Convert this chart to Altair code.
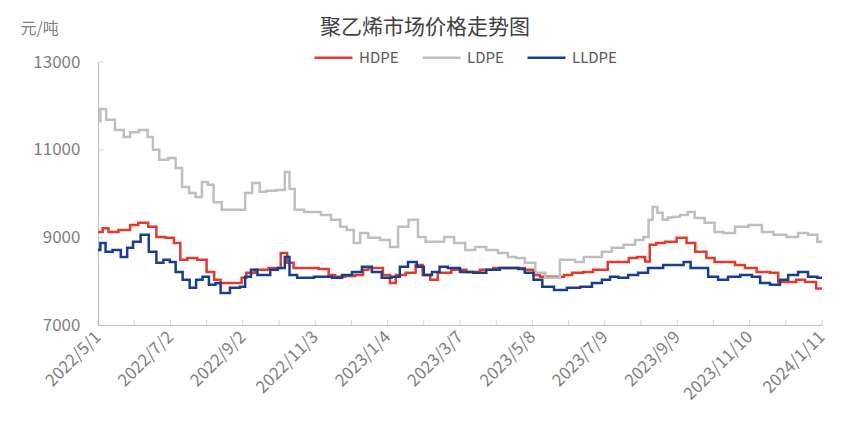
import altair as alt
import pandas as pd

# day offsets from 2022-05-01
ldpe_days = [0, 4, 10, 19, 25, 30, 40, 45, 49, 56, 64, 69, 75, 81, 86, 92, 96, 102, 110, 122, 124, 128, 136, 141, 147, 158, 162, 166, 171, 182, 188, 194, 205, 210, 216, 222, 227, 236, 247, 253, 261, 271, 277, 284, 293, 300, 310, 319, 327, 338, 347, 355, 361, 370, 379, 387, 393, 398, 404, 413, 419, 427, 436, 444, 456, 464, 470, 473, 477, 481, 486, 490, 496, 501, 509, 513, 526, 530, 541, 550, 564, 573, 584, 595, 604, 612, 620]
ldpe_vals = [11650, 11930, 11680, 11450, 11290, 11400, 11450, 11290, 11000, 10770, 10810, 10580, 10150, 10010, 9920, 10260, 10200, 9800, 9630, 9630, 9630, 10010, 10240, 10040, 10060, 10080, 10490, 10100, 9630, 9580, 9580, 9510, 9400, 9240, 9170, 8870, 9100, 8990, 8940, 8780, 9240, 9400, 9010, 8900, 8900, 9010, 8870, 8710, 8780, 8710, 8640, 8550, 8530, 8420, 8190, 8080, 8080, 8490, 8490, 8440, 8550, 8550, 8670, 8760, 8830, 8940, 9010, 9400, 9690, 9560, 9400, 9450, 9470, 9510, 9580, 9440, 9330, 9120, 9100, 9240, 9280, 9120, 9060, 9010, 9100, 9060, 8900]

hdpe_days = [0, 8, 10, 25, 30, 39, 47, 53, 62, 68, 73, 80, 90, 96, 103, 107, 122, 124, 130, 139, 153, 160, 164, 171, 182, 196, 199, 207, 216, 224, 230, 233, 241, 247, 253, 257, 270, 274, 282, 287, 295, 310, 321, 333, 344, 355, 361, 370, 376, 381, 396, 402, 410, 421, 427, 436, 437, 453, 456, 467, 470, 475, 481, 490, 501, 507, 516, 526, 530, 541, 550, 558, 570, 581, 584, 595, 601, 610, 620]
hdpe_vals = [9120, 9210, 9120, 9170, 9280, 9330, 9240, 9010, 8990, 8870, 8490, 8530, 8490, 8210, 8030, 7960, 7960, 8080, 8190, 8260, 8300, 8640, 8420, 8300, 8300, 8280, 8140, 8100, 8120, 8140, 8260, 8300, 8300, 8140, 7960, 8140, 8190, 8370, 8140, 8030, 8190, 8260, 8210, 8260, 8300, 8300, 8300, 8260, 8140, 8100, 8100, 8140, 8190, 8210, 8260, 8260, 8440, 8440, 8530, 8550, 8450, 8830, 8870, 8900, 8990, 8870, 8670, 8530, 8440, 8440, 8370, 8300, 8210, 8190, 7980, 7980, 8030, 7980, 7830]

lldpe_days = [0, 4, 9, 16, 23, 27, 33, 40, 47, 53, 59, 64, 69, 76, 81, 87, 92, 98, 103, 107, 119, 124, 128, 134, 139, 145, 150, 158, 162, 166, 175, 182, 188, 196, 205, 213, 222, 230, 239, 247, 256, 261, 270, 276, 282, 290, 295, 304, 316, 327, 338, 350, 359, 361, 370, 376, 385, 396, 407, 419, 427, 436, 441, 450, 458, 467, 475, 481, 487, 498, 505, 510, 518, 527, 535, 544, 556, 564, 570, 581, 587, 595, 604, 612, 620]
lldpe_vals = [8710, 8870, 8670, 8710, 8550, 8760, 8900, 9060, 8670, 8420, 8490, 8440, 8210, 8030, 7850, 8030, 8100, 7920, 7950, 7730, 7850, 7870, 8100, 8260, 8140, 8140, 8260, 8300, 8550, 8140, 8080, 8080, 8100, 8100, 8080, 8140, 8210, 8330, 8210, 8080, 8100, 8330, 8440, 8330, 8140, 8210, 8330, 8300, 8210, 8190, 8260, 8300, 8300, 8280, 8190, 8030, 7870, 7800, 7850, 7870, 7960, 8030, 8100, 8080, 8140, 8190, 8300, 8300, 8370, 8370, 8440, 8300, 8300, 8100, 8030, 8100, 8140, 8100, 7960, 7920, 8030, 8140, 8210, 8100, 8080]

series_names = ["HDPE", "LDPE", "LLDPE"]
series_colors = ["#E23B2E", "#BFBFBF", "#183F8F"]
y_ticks = [7000, 9000, 11000, 13000]
x_tick_days = list(range(0, 621, 31))

frames = []
for name, d, v in [("HDPE", hdpe_days, hdpe_vals), ("LDPE", ldpe_days, ldpe_vals), ("LLDPE", lldpe_days, lldpe_vals)]:
    frames.append(pd.DataFrame({"day": d, "price": v, "series": name}))
df = pd.concat(frames, ignore_index=True)

FONT = "Noto Sans CJK SC"
AX = "#BFBFBF"
LBL = "#7F7F7F"

xscale = alt.Scale(domain=[0, 620], nice=False, zero=False)
yscale = alt.Scale(domain=[7000, 13000], nice=False, zero=False)

lines = alt.Chart(df).mark_line(strokeWidth=2.5, interpolate="step").encode(
    x=alt.X("day:Q", scale=xscale,
            axis=alt.Axis(values=x_tick_days, title=None, grid=False, ticks=False,
                          labelExpr="datum.value % 62 == 0 ? utcFormat(utc(2022, 4, 1 + datum.value), '%Y/%-m/%-d') : ''",
                          labelAngle=-45, labelAlign="right", labelBaseline="middle",
                          labelOverlap=False, labelFlush=False,
                          labelFontSize=17, labelColor=LBL, labelFont=FONT, labelPadding=9,
                          domainColor=AX)),
    y=alt.Y("price:Q", scale=yscale,
            axis=alt.Axis(values=y_ticks, grid=False, ticks=False, format="d", title="元/吨", titleAngle=0,
                          titleAlign="left", titleBaseline="middle", titleX=-78, titleY=-34,
                          titleFontSize=16, titleFontWeight="normal", titleColor=LBL, titleFont=FONT,
                          labelFontSize=17, labelColor=LBL, labelFont=FONT, labelPadding=18,
                          domainColor=AX)),
    color=alt.Color("series:N",
                    scale=alt.Scale(domain=series_names, range=series_colors),
                    legend=alt.Legend(orient="none", legendX=215, legendY=-25, direction="horizontal",
                                      title=None, symbolType="stroke", symbolSize=1444,
                                      symbolStrokeWidth=2.5, labelFontSize=15, labelColor="#595959",
                                      labelFont=FONT, columnPadding=18, labelOffset=5)),
)

yt = alt.Chart(pd.DataFrame({"v": y_ticks})).mark_tick(orient="horizontal", size=5, color=AX, thickness=1).encode(
    y=alt.Y("v:Q", scale=yscale), x=alt.value(2.5))
xt = alt.Chart(pd.DataFrame({"d": x_tick_days})).mark_tick(orient="vertical", size=5, color=AX, thickness=1).encode(
    x=alt.X("d:Q", scale=xscale), y=alt.value(260.5))

chart = alt.layer(yt, xt, lines).properties(
    width=724, height=263,
    title=alt.TitleParams("聚乙烯市场价格走势图", fontSize=21, color="#404040", font=FONT,
                          fontWeight="normal", anchor="middle", dx=-35, dy=22),
    autosize="none",
    padding={"left": 90, "top": 54, "right": 35, "bottom": 89},
).configure_view(stroke=None)

chart.save("out.html", embed_options={"renderer": "svg", "actions": False})
